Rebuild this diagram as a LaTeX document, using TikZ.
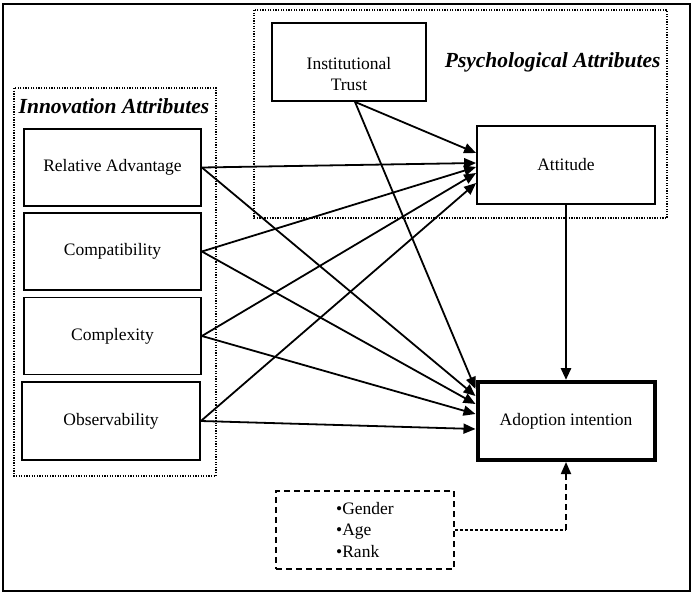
\documentclass[tikz,border=0pt]{standalone}
\usepackage{fontspec}
\setmainfont{Liberation Serif}
\usetikzlibrary{arrows.meta}
\begin{document}
\begin{tikzpicture}[x=1pt,y=-1pt,
    box/.style={draw,line width=1.8pt,minimum width=177pt,minimum height=77pt,
      font=\fontsize{17.5}{21.5}\selectfont,align=center},
    group/.style={draw,line width=1.5pt,dash pattern=on 1.3pt off 1.3pt},
    title/.style={font=\fontsize{21.5}{25}\selectfont\bfseries\itshape},
    link/.style={line width=1.8pt,-{Triangle[length=12pt,width=10pt]}}]
  \useasboundingbox (0,0) rectangle (696,594);
  \draw[line width=2.8pt] (3,4) rectangle (690,591);
  \draw[group] (14,88) rectangle (216,476);
  \draw[group] (254,10) rectangle (667,218);
  \node[title] (innovtitle) at (114,106) {Innovation Attributes};
  \node[title,anchor=east] (psychtitle) at (664,62) {Psychological Attributes};
  \node[box] (ra) at (112.5,167.5) {Relative Advantage};
  \node[box] (comp) at (112.5,251.5) {Compatibility};
  \node[box] (cx) at (112.5,336) {Complexity};
  \node[box,minimum width=178pt,minimum height=78pt] (obs) at (111,421) {Observability};
  \node[box,minimum width=154pt,minimum height=78pt] (trust) at (349,62) {};
  \node[box,draw=none,minimum height=0pt] (trusttext) at ([yshift=-12pt]trust.center) {Institutional\\Trust};
  \node[box,minimum width=178pt,minimum height=78pt] (att) at (566,165) {Attitude};
  \node[box,line width=4pt,minimum height=78pt] (adopt) at (566,421) {Adoption intention};
  \node[box,align=left,minimum width=178pt,minimum height=78pt,line width=1.8pt,
    dash pattern=on 6pt off 4pt] (ctrl) at (365,530) {•Gender\\•Age\\•Rank};
  \draw[link] ([xshift=6pt]trust.south) -- ([yshift=12pt]att.west);
  \draw[link] ([xshift=6pt]trust.south) -- ([yshift=32pt]adopt.west);
  \foreach \src/\a/\b in {ra/2/25,comp/-2/17,cx/-8/7,obs/-18/-8} {
    \draw[link] (\src.east) -- ([yshift=\a pt]att.west);
    \draw[link] (\src.east) -- ([yshift=\b pt]adopt.west);
  }
  \draw[link,line width=2.8pt] (att.south) -- (adopt.north);
  \draw[line width=1.2pt,dash pattern=on 3pt off 2pt] (ctrl.east) -- (ctrl.east -| adopt.south);
  \draw[link,dash pattern=on 6pt off 4pt] (ctrl.east -| adopt.south) -- (adopt.south);
\end{tikzpicture}
\end{document}
